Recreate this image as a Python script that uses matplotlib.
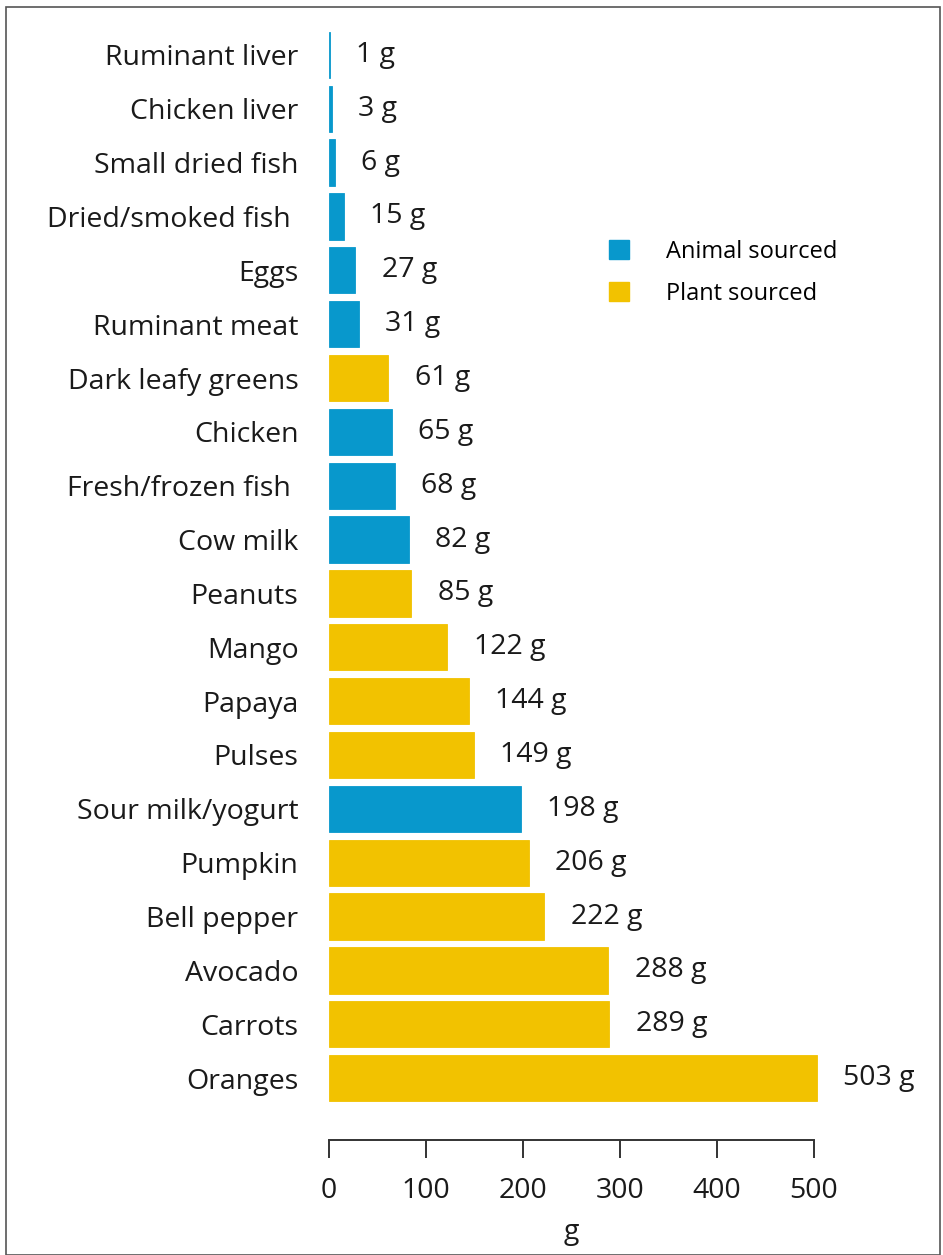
import matplotlib.pyplot as plt
from matplotlib.patches import Patch, Rectangle

plt.rcParams['font.family'] = ['Open Sans', 'DejaVu Sans']

foods = ['Ruminant liver', 'Chicken liver', 'Small dried fish', 'Dried/smoked fish ',
         'Eggs', 'Ruminant meat', 'Dark leafy greens', 'Chicken', 'Fresh/frozen fish ',
         'Cow milk', 'Peanuts', 'Mango', 'Papaya', 'Pulses', 'Sour milk/yogurt',
         'Pumpkin', 'Bell pepper', 'Avocado', 'Carrots', 'Oranges']
grams = [1, 3, 6, 15, 27, 31, 61, 65, 68, 82, 85, 122, 144, 149, 198, 206, 222, 288, 289, 503]
source = ['A', 'A', 'A', 'A', 'A', 'A', 'P', 'A', 'A', 'A',
          'P', 'P', 'P', 'P', 'A', 'P', 'P', 'P', 'P', 'P']
x_ticks = [0, 100, 200, 300, 400, 500]

blue = '#0898cc'
yellow = '#f2c200'
colors = [blue if s == 'A' else yellow for s in source]
fs = 20.5
ink = '#1a1a1a'

W, H = 943, 1255
fig = plt.figure(figsize=(W / 100, H / 100), dpi=100)
fig.patches.append(Rectangle((6 / W, 0), 934 / W, 1 - 7 / H, transform=fig.transFigure,
                             fill=False, edgecolor='#555555', lw=1.2))

# 0.97 px per gram, x = 0 at pixel 329
ax = fig.add_axes([329 / W, (H - 1140) / H, 0.97 * 510 / W, 1112 / H])
ypos = list(range(len(foods)))
ax.barh(ypos, grams, height=0.86, color=colors, edgecolor=colors, linewidth=0.6)
ax.set_ylim(20.15, -0.5)
ax.set_xlim(0, 510)

for y, g in zip(ypos, grams):
    ax.annotate(f'{g} g', (g, y), xytext=(19, 0), textcoords='offset points',
                va='center', ha='left', fontsize=fs, color=ink, annotation_clip=False)

ax.set_yticks(ypos)
ax.set_yticklabels(foods, fontsize=fs, color=ink)
ax.tick_params(axis='y', length=0, pad=22)
ax.set_xticks(x_ticks)
ax.set_xticklabels([str(t) for t in x_ticks], fontsize=fs, color=ink)
ax.tick_params(axis='x', length=13, width=1.4, pad=14, color='#333333')
for s in ['top', 'right', 'left']:
    ax.spines[s].set_visible(False)
ax.spines['bottom'].set_bounds(0, 500)
ax.spines['bottom'].set_linewidth(1.4)
ax.spines['bottom'].set_color('#333333')
ax.set_xlabel('g', fontsize=fs, color=ink, labelpad=8)
ax.xaxis.set_label_coords(250 / 510, -0.07)

handles = [Patch(color=blue, label='Animal sourced'), Patch(color=yellow, label='Plant sourced')]
fig.legend(handles=handles, loc='upper left', bbox_to_anchor=(609 / W, 1 - 240 / H),
           frameon=False, fontsize=17, handlelength=0.85, handleheight=0.85,
           handletextpad=1.55, labelspacing=0.75, borderpad=0, borderaxespad=0)

fig.savefig('out.png', dpi=100)
